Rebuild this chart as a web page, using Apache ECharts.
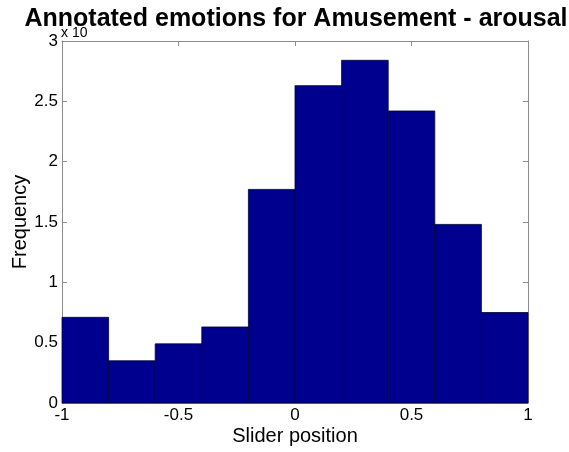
<!DOCTYPE html>
<html><head><meta charset="utf-8">
<script src="https://cdn.jsdelivr.net/npm/echarts@6/dist/echarts.min.js"></script>
<style>html,body{margin:0;padding:0;background:#fff}#c{width:569px;height:452px}</style>
</head><body><div id="c"></div>
<script>
const binStarts = [-1, -0.8, -0.6, -0.4, -0.2, 0, 0.2, 0.4, 0.6, 0.8];
const binWidth = 0.2;
const frequency = [0.71, 0.35, 0.49, 0.63, 1.77, 2.63, 2.84, 2.42, 1.48, 0.75];
const xTicks = [-1, -0.5, 0, 0.5, 1];
const yTicks = [0, 0.5, 1, 1.5, 2, 2.5, 3];

const data = binStarts.map((s, i) => [s, s + binWidth, frequency[i]]);
const font = 'Liberation Sans, Arial, sans-serif';
const axisColor = '#8c8c8c';
const chart = echarts.init(document.getElementById('c'));
const baseAxis = {
  axisLine: {show: true, onZero: false, lineStyle: {color: axisColor, width: 1}},
  axisTick: {show: true, inside: true, length: 5, lineStyle: {color: axisColor}},
  splitLine: {show: false}
};
chart.setOption({
  animation: false,
  title: {
    text: 'Annotated emotions for Amusement - arousal',
    left: 291, top: 2, textAlign: 'center',
    textStyle: {fontFamily: font, fontWeight: 'bold', fontSize: 25, color: '#000'}
  },
  graphic: [{
    type: 'text', left: 61, top: 26,
    style: {text: 'x 10', font: '14px ' + font, fill: '#000'}
  }],
  grid: {left: 62, right: 41, top: 41, bottom: 49, containLabel: false, outerBoundsMode: 'none'},
  xAxis: [
    Object.assign({}, baseAxis, {
      type: 'value', min: xTicks[0], max: xTicks[xTicks.length - 1], interval: 0.5, position: 'bottom',
      name: 'Slider position', nameLocation: 'middle', nameGap: 23, nameMoveOverlap: false,
      nameTextStyle: {fontFamily: font, fontSize: 20, color: '#000'},
      axisLabel: {fontFamily: font, fontSize: 17, color: '#000', margin: 4,
        formatter: v => String(v)}
    }),
    Object.assign({}, baseAxis, {
      type: 'value', min: xTicks[0], max: xTicks[xTicks.length - 1], interval: 0.5, position: 'top',
      axisLabel: {show: false}
    })
  ],
  yAxis: [
    Object.assign({}, baseAxis, {
      type: 'value', min: yTicks[0], max: yTicks[yTicks.length - 1], interval: 0.5, position: 'left',
      name: 'Frequency', nameLocation: 'middle', nameGap: 32, nameMoveOverlap: false,
      nameTextStyle: {fontFamily: font, fontSize: 20, color: '#000'},
      axisLabel: {fontFamily: font, fontSize: 17, color: '#000', margin: 4,
        formatter: v => String(v)}
    }),
    Object.assign({}, baseAxis, {
      type: 'value', min: yTicks[0], max: yTicks[yTicks.length - 1], interval: 0.5, position: 'right',
      axisLabel: {show: false}
    })
  ],
  series: [{
    type: 'custom',
    xAxisIndex: 0, yAxisIndex: 0,
    data: data,
    renderItem: function (params, api) {
      const p0 = api.coord([api.value(0), 0]);
      const p1 = api.coord([api.value(1), api.value(2)]);
      return {
        type: 'rect',
        shape: {x: p0[0], y: p1[1], width: p1[0] - p0[0], height: p0[1] - p1[1]},
        style: {fill: '#00008f', stroke: '#00003a', lineWidth: 0.8}
      };
    }
  }]
});
</script></body></html>
